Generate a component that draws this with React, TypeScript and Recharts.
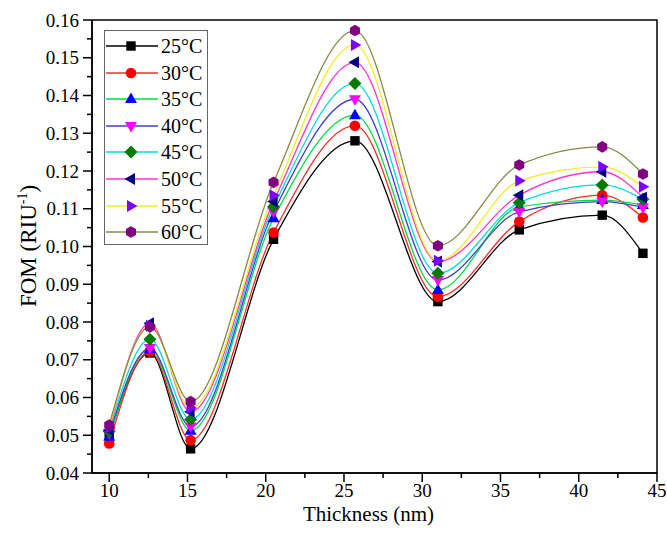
import React from 'react';
import { LineChart, Line, XAxis, YAxis, ReferenceArea } from 'recharts';

const thickness = [10, 12.6, 15.2, 20.5, 25.7, 31.0, 36.2, 41.5, 44.1];

const fom25 = [0.0500, 0.0718, 0.0464, 0.1019, 0.1280, 0.0854, 0.1044, 0.1083, 0.0982];
const fom30 = [0.0478, 0.0722, 0.0487, 0.1037, 0.1320, 0.0867, 0.1066, 0.1136, 0.1077];
const fom35 = [0.0496, 0.0728, 0.0512, 0.1075, 0.1348, 0.0885, 0.1105, 0.1123, 0.1110];
const fom40 = [0.0505, 0.0731, 0.0523, 0.1092, 0.1390, 0.0911, 0.1092, 0.1119, 0.1104];
const fom45 = [0.0510, 0.0754, 0.0542, 0.1105, 0.1432, 0.0929, 0.1116, 0.1163, 0.1125];
const fom50 = [0.0514, 0.0797, 0.0562, 0.1119, 0.1488, 0.0960, 0.1136, 0.1198, 0.1130];
const fom55 = [0.0520, 0.0790, 0.0572, 0.1136, 0.1534, 0.0962, 0.1174, 0.1211, 0.1158];
const fom60 = [0.0527, 0.0787, 0.0589, 0.1170, 0.1572, 0.1002, 0.1216, 0.1264, 0.1192];

const seriesNames = ['25°C', '30°C', '35°C', '40°C', '45°C', '50°C', '55°C', '60°C'];
const seriesValues = [fom25, fom30, fom35, fom40, fom45, fom50, fom55, fom60];
const lineColors = ['#000000', '#ff2a2a', '#00dd44', '#4040cc', '#00dddd', '#ff33cc', '#eeee22', '#88884a'];
const markerColors = ['#000000', '#ff0000', '#0000ff', '#ff00ff', '#007a00', '#000080', '#8000ff', '#800080'];
const markerShapes = ['square', 'circle', 'up', 'down', 'diamond', 'left', 'right', 'hexagon'];

const xTicks = [10, 12.5, 15, 17.5, 20, 22.5, 25, 27.5, 30, 32.5, 35, 37.5, 40, 42.5, 45];
const yTicks = [0.04, 0.045, 0.05, 0.055, 0.06, 0.065, 0.07, 0.075, 0.08, 0.085, 0.09, 0.095, 0.1, 0.105, 0.11, 0.115, 0.12, 0.125, 0.13, 0.135, 0.14, 0.145, 0.15, 0.155, 0.16];

const X_DOMAIN: [number, number] = [8.9, 45];
const Y_DOMAIN: [number, number] = [0.04, 0.16];

const data = thickness.map((t, i) => {
  const row: Record<string, number> = { t };
  seriesValues.forEach((vals, k) => {
    row[`s${k}`] = vals[i];
  });
  return row;
});

const SERIF = 'Liberation Serif';
const serifRef = (el: any) => {
  if (el && el.style) el.style.setProperty('font-family', SERIF, 'important');
};

function Marker({ cx, cy, shape, color }: { cx: number; cy: number; shape: string; color: string }) {
  const pts = (arr: number[][]) => arr.map(([a, b]) => `${cx + a},${cy + b}`).join(' ');
  switch (shape) {
    case 'square':
      return <rect x={cx - 4.7} y={cy - 4.7} width={9.4} height={9.4} fill={color} />;
    case 'circle':
      return <circle cx={cx} cy={cy} r={5.3} fill={color} />;
    case 'up':
      return <polygon points={pts([[0, -6.5], [6, 4], [-6, 4]])} fill={color} />;
    case 'down':
      return <polygon points={pts([[0, 6.5], [6, -4], [-6, -4]])} fill={color} />;
    case 'diamond':
      return <polygon points={pts([[0, -6.5], [6.5, 0], [0, 6.5], [-6.5, 0]])} fill={color} />;
    case 'left':
      return <polygon points={pts([[-6.5, 0], [4, -6], [4, 6]])} fill={color} />;
    case 'right':
      return <polygon points={pts([[6.5, 0], [-4, -6], [-4, 6]])} fill={color} />;
    case 'hexagon': {
      const arr: number[][] = [];
      for (let k = 0; k < 6; k++) {
        const a = (Math.PI / 180) * (-90 + 60 * k);
        arr.push([5.8 * Math.cos(a), 5.8 * Math.sin(a)]);
      }
      return <polygon points={pts(arr)} fill={color} />;
    }
    default:
      return null;
  }
}

function XTick(props: any) {
  const { x, y, payload } = props;
  const v = payload.value as number;
  const major = Math.abs(v / 5 - Math.round(v / 5)) < 1e-6;
  return (
    <g>
      <line x1={x} x2={x} y1={y} y2={y + (major ? 9 : 5)} stroke="#000" strokeWidth={1.5} />
      {major && (
        <text ref={serifRef} x={x} y={y + 24} textAnchor="middle" fontFamily={SERIF} fontSize={19} fill="#000">
          {v}
        </text>
      )}
    </g>
  );
}

function YTick(props: any) {
  const { x, y, payload } = props;
  const v = payload.value as number;
  const major = Math.abs(v * 100 - Math.round(v * 100)) < 1e-6;
  return (
    <g>
      <line x1={x} x2={x - (major ? 9 : 5)} y1={y} y2={y} stroke="#000" strokeWidth={1.5} />
      {major && (
        <text ref={serifRef} x={x - 13} y={y} dy="0.35em" textAnchor="end" fontFamily={SERIF} fontSize={19} fill="#000">
          {v.toFixed(2)}
        </text>
      )}
    </g>
  );
}

function XLabel(props: any) {
  const vb = props.viewBox || { x: 92, y: 473, width: 565 };
  return (
    <text ref={serifRef} x={vb.x + vb.width / 2 - 6} y={vb.y + 48} textAnchor="middle" fontFamily={SERIF} fontSize={21} fill="#000">
      Thickness (nm)
    </text>
  );
}

function YLabel() {
  const cx = 28;
  const cy = 246;
  return (
    <text
      ref={serifRef}
      x={cx}
      y={cy}
      dy="0.35em"
      transform={`rotate(-90, ${cx}, ${cy})`}
      textAnchor="middle"
      fontFamily={SERIF}
      fontSize={23}
      fill="#000"
    >
      FOM (RIU
      <tspan dy={-9} fontSize={14}>-1</tspan>
      <tspan dy={9}>)</tspan>
    </text>
  );
}

function LegendBox() {
  return (
    <div
      style={{
        position: 'absolute',
        left: 104,
        top: 30,
        width: 102,
        height: 213,
        border: '1px solid #666',
        background: '#fff',
      }}
    >
      {seriesNames.map((name, i) => (
        <div
          key={name}
          style={{ position: 'absolute', left: 0, top: 2 + i * 26.6, height: 26, display: 'flex', alignItems: 'center' }}
        >
          <svg width={56} height={26} style={{ display: 'block' }}>
            <line x1={1} x2={53} y1={13} y2={13} stroke={lineColors[i]} strokeWidth={1.3} />
            <Marker cx={26} cy={13} shape={markerShapes[i]} color={markerColors[i]} />
          </svg>
          <span ref={serifRef} style={{ fontFamily: SERIF, fontSize: 20, lineHeight: '26px', color: '#000' }}>
            {name}
          </span>
        </div>
      ))}
    </div>
  );
}

export default function App() {
  return (
    <div style={{ position: 'absolute', left: 0, top: 0, width: 667, height: 535, background: '#fff', fontFamily: SERIF }}>
      <LineChart width={667} height={535} data={data} margin={{ top: 20, right: 10, bottom: 22, left: 0 }}>
        <XAxis
          dataKey="t"
          type="number"
          domain={X_DOMAIN}
          ticks={xTicks}
          interval={0}
          tickSize={0}
          tickMargin={0}
          tickLine={false}
          tick={<XTick />}
          height={40}
          axisLine={{ stroke: '#000', strokeWidth: 1.5 }}
          label={<XLabel />}
        />
        <YAxis
          type="number"
          domain={Y_DOMAIN}
          ticks={yTicks}
          interval={0}
          tickSize={0}
          tickMargin={0}
          tickLine={false}
          tick={<YTick />}
          width={92}
          axisLine={{ stroke: '#000', strokeWidth: 1.5 }}
          label={<YLabel />}
        />
        <ReferenceArea
          x1={X_DOMAIN[0]}
          x2={X_DOMAIN[1]}
          y1={Y_DOMAIN[0]}
          y2={Y_DOMAIN[1]}
          fill="none"
          fillOpacity={0}
          stroke="#000"
          strokeWidth={1.5}
          ifOverflow="visible"
        />
        {seriesNames.map((name, k) => (
          <Line
            key={name}
            name={name}
            dataKey={`s${k}`}
            type="monotone"
            stroke={lineColors[k]}
            strokeWidth={1.3}
            isAnimationActive={false}
            activeDot={false}
            dot={(p: any) => (
              <Marker
                key={`${name}-${p.index}`}
                cx={p.cx}
                cy={p.cy}
                shape={markerShapes[k]}
                color={markerColors[k]}
              />
            )}
          />
        ))}
      </LineChart>
      <LegendBox />
    </div>
  );
}
